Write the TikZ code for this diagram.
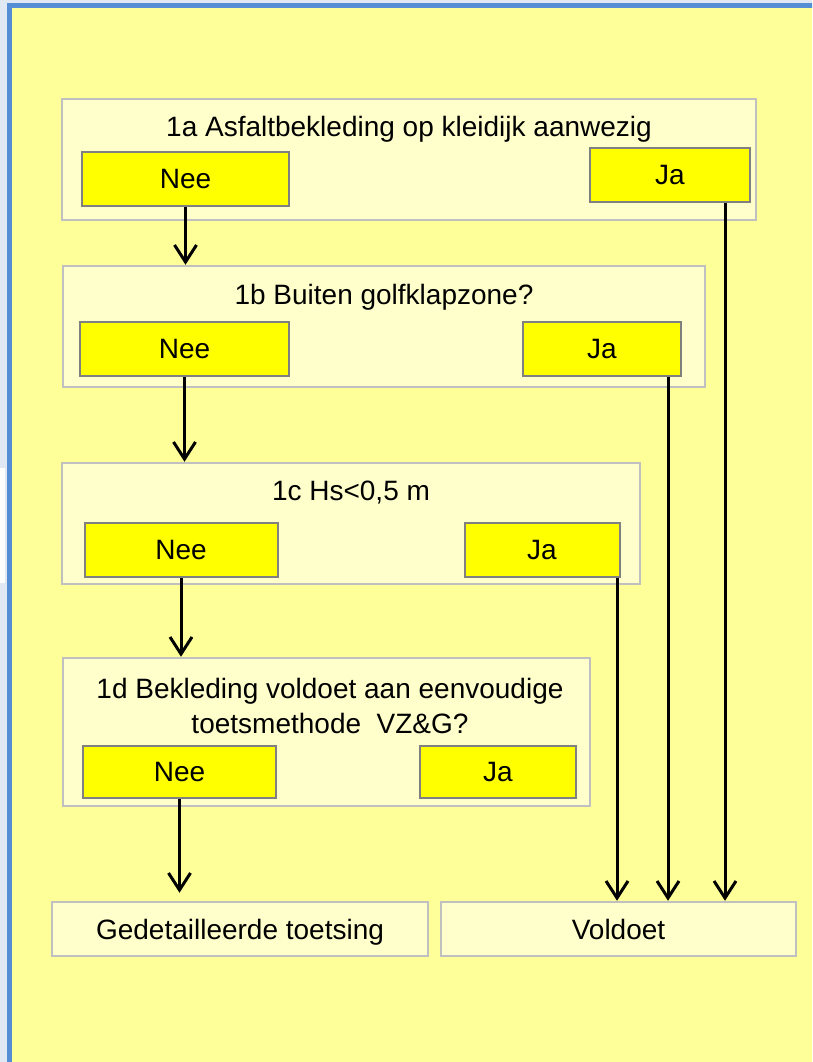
\documentclass[tikz,border=0pt]{standalone}
\usepackage{fontspec}
\setmainfont{Liberation Sans}
\usetikzlibrary{arrows.meta}
\definecolor{bgblue}{HTML}{E0E8F3}
\definecolor{frameblue}{HTML}{558ED5}
\definecolor{paper}{HTML}{FFFF99}
\definecolor{boxfill}{HTML}{FFFFCC}
\definecolor{btnfill}{HTML}{FFFF00}
\definecolor{boxline}{HTML}{C0C0C0}
\definecolor{btnline}{HTML}{808080}
\newcommand\flowfs{\fontsize{28}{35}\selectfont}
\tikzset{
  panel/.style={draw=boxline, line width=2.5pt, fill=boxfill, inner sep=0pt},
  btn/.style={draw=btnline, line width=2pt, fill=btnfill, inner sep=0pt, font=\flowfs},
  titletext/.style={inner sep=0pt, font=\flowfs, align=center},
  arr/.style={line width=3pt, -{Straight Barb[length=17pt,width=22pt]}},
}
\begin{document}
\begin{tikzpicture}[x=1pt,y=-1pt]
\useasboundingbox (0,0) rectangle (812,1062);
\clip (0,0) rectangle (812,1062);
% background and frame
\fill[bgblue] (0,0) rectangle (812,1062);
\fill[white] (0,468) rectangle (5,583);
\draw[frameblue, line width=5pt, fill=paper] (9.5,6) rectangle (840,1090);

% box 1a
\node[panel, minimum width=694, minimum height=121] (b1a) at (409,159.5) {};
\node[titletext] (t1a) at (409,129) {1a Asfaltbekleding op kleidijk aanwezig};
\node[btn, minimum width=207, minimum height=54] (n1a) at (185.5,179) {Nee};
\node[btn, minimum width=160, minimum height=54] (j1a) at (670,175) {Ja};

% box 1b
\node[panel, minimum width=642, minimum height=121] (b1b) at (384,326.5) {};
\node[titletext] (t1b) at (384,297) {1b Buiten golfklapzone?};
\node[btn, minimum width=209, minimum height=54] (n1b) at (184.5,349) {Nee};
\node[btn, minimum width=158, minimum height=54] (j1b) at (602,349) {Ja};

% box 1c
\node[panel, minimum width=578, minimum height=121] (b1c) at (351,523.5) {};
\node[titletext] (t1c) at (351,493) {1c Hs<0,5 m};
\node[btn, minimum width=193, minimum height=54] (n1c) at (181,550) {Nee};
\node[btn, minimum width=155, minimum height=54] (j1c) at (542,550) {Ja};

% box 1d
\node[panel, minimum width=527, minimum height=148] (b1d) at (326.5,732) {};
\node[titletext] (t1d) at (330,705.5) {1d Bekleding voldoet aan eenvoudige\\toetsmethode\ \ VZ\&G?};
\node[btn, minimum width=193, minimum height=52] (n1d) at (179.5,772) {Nee};
\node[btn, minimum width=156, minimum height=52] (j1d) at (498,772) {Ja};

% results
\node[panel, minimum width=376, minimum height=54, font=\flowfs] (ged) at (240,929) {\raisebox{0pt}[\height][0pt]{Gedetailleerde toetsing}};
\node[panel, minimum width=355, minimum height=54, font=\flowfs] (vold) at (618.5,929) {Voldoet};

% Nee arrows
\draw[arr] (n1a.south) -- (n1a.south |- b1b.north);
\draw[arr] (n1b.south) -- (n1b.south |- b1c.north);
\draw[arr] (n1c.south) -- (n1c.south |- b1d.north);
\draw[arr, shorten >=8pt] (n1d.south) -- (n1d.south |- ged.north);

% Ja arrows
\draw[arr] ([xshift=55pt]j1a.south) -- ([xshift=55pt]j1a.south |- vold.north);
\draw[arr] ([xshift=66pt]j1b.south) -- ([xshift=66pt]j1b.south |- vold.north);
\draw[arr] ([xshift=75pt]j1c.south) -- ([xshift=75pt]j1c.south |- vold.north);
\end{tikzpicture}
\end{document}
